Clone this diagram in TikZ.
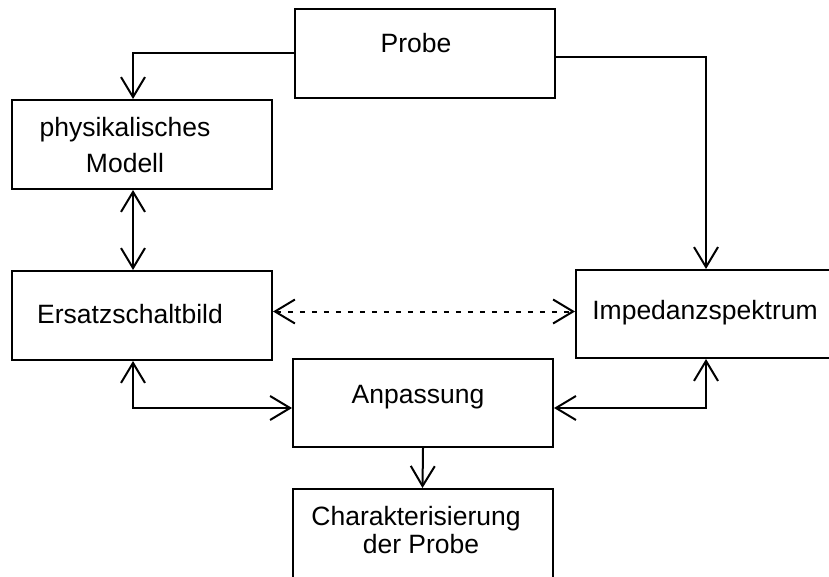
\documentclass[tikz,border=0pt]{standalone}
\usepackage{fontspec}
\setmainfont{Liberation Sans}
\usepackage{tikz}
\usetikzlibrary{arrows.meta, positioning, calc}

\begin{document}
\begin{tikzpicture}[
    x=1pt, y=-1pt,
    block/.style={rectangle, draw, line width=2pt, minimum width=260pt, minimum height=89pt, inner sep=0pt},
    label/.style={font=\fontsize{26.5}{36}\selectfont, anchor=base, align=center, inner sep=0pt},
    arrow/.style={-{Straight Barb[length=20pt, width=24pt]}, line width=2pt},
    biarrow/.style={{Straight Barb[length=20pt, width=24pt]}-{Straight Barb[length=20pt, width=24pt]}, line width=2pt}
]
\useasboundingbox (0,0) rectangle (829,577);
\clip (0,0) rectangle (829,577);

% === BLOCKS ===
\node[block] (probe) at (425, 53.5) {};
\node[block] (modell) at (142, 144.5) {};
\node[block] (esb) at (142, 315.5) {};
\node[block, minimum height=88pt] (imp) at (706, 314) {};
\node[block, minimum height=88pt] (anp) at (423, 403) {};
\node[block] (char) at (422.5, 533.5) {};

% Texts (not centred in the boxes; base = last line)
\node[label] (probetxt) at (416, 53) {Probe};
\node[label] (modelltxt) at (125, 173) {physikalisches\\Modell};
\node[label] (esbtxt) at (130, 323) {Ersatzschaltbild};
\node[label] (imptxt) at (705, 319) {Impedanzspektrum};
\node[label] (anptxt) at (418, 403) {Anpassung};
\node[label, font=\fontsize{26.5}{28}\selectfont] (chartxt) at (416, 553) {Charakterisierung\\\hspace*{10pt}der Probe};

% === CONNECTIONS ===
\draw[arrow] (probe.west) -| ([xshift=-9pt]modell.north);
\draw[arrow] ([yshift=-4pt]probe.east) -| (imp.north);
\draw[biarrow] ([xshift=-9pt]modell.south) -- ([xshift=-9pt]esb.north);
\draw[biarrow, dash pattern=on 5pt off 7pt] ([yshift=4pt]esb.east) -- ([yshift=4pt]esb.east -| imp.west);
\draw[biarrow] ([xshift=-9pt]esb.south) |- ([yshift=-5pt]anp.west);
\draw[biarrow] (imp.south) |- ([yshift=-5pt]anp.east);
\draw[arrow] (anp.south) -- (char.north);

\end{tikzpicture}
\end{document}
